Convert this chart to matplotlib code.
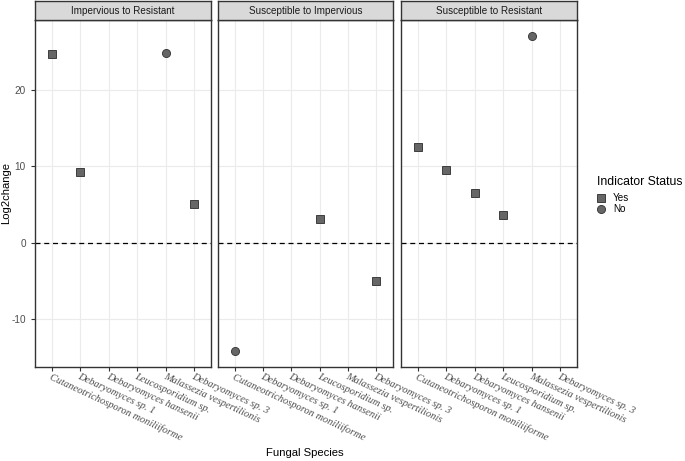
import matplotlib
matplotlib.use("Agg")
import matplotlib.pyplot as plt
from matplotlib.lines import Line2D

species = ["Cutaneotrichosporon moniliiforme", "Debaryomyces sp. 1",
           "Debaryomyces hansenii", "Leucosporidium sp.",
           "Malassezia vespertilionis", "Debaryomyces sp. 3"]
panels = ["Impervious to Resistant", "Susceptible to Impervious", "Susceptible to Resistant"]

p1_species = ["Cutaneotrichosporon moniliiforme", "Debaryomyces sp. 1",
              "Malassezia vespertilionis", "Debaryomyces sp. 3"]
p1_values = [24.7, 9.2, 24.8, 5.1]
p1_indicator = ["Yes", "Yes", "No", "Yes"]

p2_species = ["Cutaneotrichosporon moniliiforme", "Leucosporidium sp.", "Debaryomyces sp. 3"]
p2_values = [-14.2, 3.1, -5.0]
p2_indicator = ["No", "Yes", "Yes"]

p3_species = ["Cutaneotrichosporon moniliiforme", "Debaryomyces sp. 1",
              "Debaryomyces hansenii", "Leucosporidium sp.", "Malassezia vespertilionis"]
p3_values = [12.55, 9.5, 6.5, 3.66, 27.1]
p3_indicator = ["Yes", "Yes", "Yes", "Yes", "No"]

yticks = [-10, 0, 10, 20]

data = [(p1_species, p1_values, p1_indicator),
        (p2_species, p2_values, p2_indicator),
        (p3_species, p3_values, p3_indicator)]

W, H = 685, 461
fig = plt.figure(figsize=(W / 100, H / 100), dpi=100)

all_vals = p1_values + p2_values + p3_values
lo, hi = min(all_vals), max(all_vals)
pad = 0.05 * (hi - lo)
ylim = (lo - pad, hi + pad)

panel_x = [(35, 211), (218, 393), (401, 577)]
top_px, strip_bot_px, bot_px = 1, 20, 367

fill = "#666666"
edge = "#3d3d3d"
markers = {"Yes": "s", "No": "o"}
msize = {"Yes": 5.3, "No": 5.8}
sans = "Liberation Sans"

for i, ((x0, x1), title, (sp, vals, ind)) in enumerate(zip(panel_x, panels, data)):
    ax = fig.add_axes([x0 / W, 1 - bot_px / H, (x1 - x0) / W, (bot_px - strip_bot_px) / H])
    ax.set_facecolor("white")
    ax.set_xlim(-0.6, len(species) - 1 + 0.6)
    ax.set_ylim(*ylim)
    ax.set_xticks(range(len(species)))
    ax.set_yticks(yticks)
    ax.grid(True, color="#ebebeb", linewidth=0.8)
    ax.set_axisbelow(True)
    ax.axhline(0, color="black", linestyle=(0, (4, 3)), linewidth=0.9, zorder=2)
    for s, v, d in zip(sp, vals, ind):
        ax.plot(species.index(s), v, marker=markers[d], markersize=msize[d],
                markerfacecolor=fill, markeredgecolor=edge, markeredgewidth=0.7,
                linestyle="none", zorder=3)
    for spn in ax.spines.values():
        spn.set_color("#333333")
        spn.set_linewidth(1.0)
    ax.tick_params(axis="both", color="#333333", length=3, width=0.8, labelcolor="#4d4d4d")
    ax.set_xticklabels([])
    for k, name in enumerate(species):
        ax.text(k, -0.014, name, transform=ax.get_xaxis_transform(), rotation=-25,
                rotation_mode="anchor", ha="left", va="top", fontsize=7.5,
                family="Liberation Serif", style="italic", color="#4d4d4d")
    if i == 0:
        ax.set_yticklabels([str(t) for t in yticks], fontsize=7.2, family=sans)
    else:
        ax.set_yticklabels([])
        ax.tick_params(axis="y", length=0)
    sax = fig.add_axes([x0 / W, 1 - strip_bot_px / H, (x1 - x0) / W, (strip_bot_px - top_px) / H])
    sax.set_facecolor("#d9d9d9")
    sax.set_xticks([]); sax.set_yticks([])
    for spn in sax.spines.values():
        spn.set_color("#333333")
        spn.set_linewidth(1.0)
    sax.text(0.5, 0.5, title, ha="center", va="center", fontsize=7.1,
             family=sans, color="#1a1a1a", transform=sax.transAxes)

fig.text(6 / W, 1 - 193.5 / H, "Log2change", rotation=90, ha="center", va="center",
         fontsize=8.1, family=sans, color="black")
fig.text(305 / W, 1 - 453 / H, "Fungal Species", ha="center", va="center",
         fontsize=8.1, family=sans, color="black")

fig.text(597 / W, 1 - 182 / H, "Indicator Status", ha="left", va="center",
         fontsize=8.8, family=sans, color="black")
for lbl, yy in [("Yes", 198), ("No", 209)]:
    fig.add_artist(Line2D([601 / W], [1 - yy / H], marker=markers[lbl],
                          markersize=msize[lbl],
                          markerfacecolor=fill, markeredgecolor=edge, markeredgewidth=0.7,
                          linestyle="none", transform=fig.transFigure))
    fig.text(613 / W, 1 - yy / H, lbl, ha="left", va="center", fontsize=7.1,
             family=sans, color="black")

fig.savefig("out.png", dpi=100, facecolor="white")
